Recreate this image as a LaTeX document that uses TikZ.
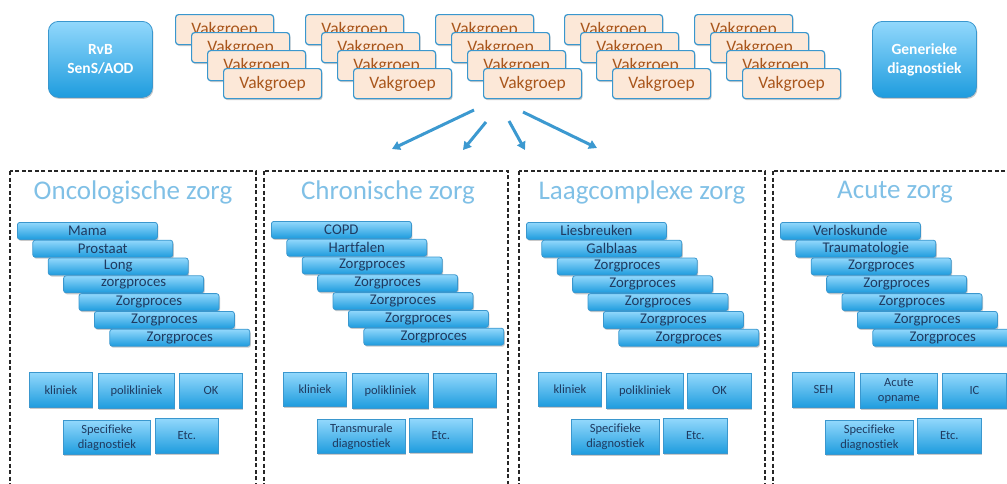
\documentclass[tikz,border=0pt]{standalone}
\usepackage{fontspec}
\setmainfont{Carlito}[Ligatures=NoCommon]
\usetikzlibrary{arrows.meta,shadows}
\definecolor{gtop}{HTML}{92D8FC}
\definecolor{gbot}{HTML}{1E9CDE}
\definecolor{bborder}{HTML}{3A97CE}
\definecolor{navy}{HTML}{1F3A60}
\definecolor{peach}{HTML}{FCE8D8}
\definecolor{brown}{HTML}{A9561C}
\definecolor{titleblue}{HTML}{80C0E6}
\definecolor{arrowblue}{HTML}{3C99D0}
\begin{document}
\begin{tikzpicture}[x=1pt,y=-1pt,
  shad/.style={drop shadow={shadow xshift=1pt,shadow yshift=-1.5pt,opacity=0.3,fill=black!70}},
  bluebox/.style={draw=bborder,line width=0.8pt,top color=gtop,bottom color=gbot,shad},
  bar/.style={bluebox,rounded corners=2.5pt,minimum width=140pt,minimum height=17pt,
    inner sep=0pt,anchor=north west,text=navy,font=\fontsize{14.8}{15}\selectfont},
  sq/.style={bluebox,inner sep=0pt,anchor=north west,text=navy,align=center,
    font=\fontsize{12.5}{15}\selectfont},
  topbox/.style={bluebox,rounded corners=10pt,minimum width=104pt,minimum height=76pt,
    inner sep=0pt,anchor=north west,text=white,align=center,
    font=\fontsize{15.5}{19}\selectfont\bfseries},
  vak/.style={draw=bborder,line width=1.2pt,fill=peach,rounded corners=3pt,shad,
    minimum width=98pt,minimum height=30pt,inner sep=0pt,anchor=north west,
    text=brown,font=\fontsize{17.5}{18}\selectfont},
  panel/.style={draw=black!85,line width=1.2pt,dash pattern=on 4pt off 2.5pt},
  ptitle/.style={text=titleblue,font=\fontsize{27}{28}\selectfont},
  arr/.style={draw=arrowblue,line width=3pt,-{Triangle[width=9pt,length=8pt]}}
]
\useasboundingbox (0,0) rectangle (1007,483);
\clip (0,0) rectangle (1007,483);

% top boxes
\node[topbox] (rvb) at (48,21) {RvB\\SenS/AOD};
\node[topbox] (gen) at (872,21) {Generieke\\diagnostiek};

% vakgroep stacks
\foreach \sx [count=\s] in {175,305,435,564,694}{
  \foreach \i in {0,...,3}{
    \node[vak] (v\s\i) at ({\sx+16*\i},{14+18*\i}) {Vakgroep};
  }
}

% arrows
\coordinate (a1s) at (474,110); \coordinate (a1e) at (392,149);
\coordinate (a2s) at (486,122); \coordinate (a2e) at (463,150);
\coordinate (a3s) at (509,121); \coordinate (a3e) at (525,150);
\coordinate (a4s) at (523,112); \coordinate (a4e) at (597,148);
\draw[arr] (a1s) -- (a1e);
\draw[arr] (a2s) -- (a2e);
\draw[arr] (a3s) -- (a3e);
\draw[arr] (a4s) -- (a4e);

% panels
\draw[panel] (10,171) rectangle (256,495);
\draw[panel] (264,171) rectangle (508,495);
\draw[panel] (519,171) rectangle (765,495);
\draw[panel] (773,171) rectangle (1020,495);

\node[ptitle] (t1) at (133,192) {Oncologische zorg};
\node[ptitle] (t2) at (388,192) {Chronische zorg};
\node[ptitle] (t3) at (642,192) {Laagcomplexe zorg};
\node[ptitle] (t4) at (895,192) {Acute zorg};

% bars
\foreach \t [count=\i from 0] in {Mama,Prostaat,Long,zorgproces,Zorgproces,Zorgproces,Zorgproces}
  \node[bar] (o\i) at ({17+15.4*\i},{222+17.8*\i}) {\t};
\foreach \t [count=\i from 0] in {COPD,Hartfalen,Zorgproces,Zorgproces,Zorgproces,Zorgproces,Zorgproces}
  \node[bar] (c\i) at ({271+15.4*\i},{221+17.8*\i}) {\t};
\foreach \t [count=\i from 0] in {Liesbreuken,Galblaas,Zorgproces,Zorgproces,Zorgproces,Zorgproces,Zorgproces}
  \node[bar] (l\i) at ({526+15.4*\i},{222+17.8*\i}) {\t};
\foreach \t [count=\i from 0] in {Verloskunde,Traumatologie,Zorgproces,Zorgproces,Zorgproces,Zorgproces,Zorgproces}
  \node[bar] (u\i) at ({780+15.4*\i},{222+17.8*\i}) {\t};

% bottom boxes panel 1
\node[sq,minimum width=63pt,minimum height=35pt] (k1) at (29,372) {kliniek};
\node[sq,minimum width=76pt,minimum height=35pt] (p1) at (98,373) {polikliniek};
\node[sq,minimum width=63pt,minimum height=35pt] (ok1) at (179,373) {OK};
\node[sq,minimum width=87pt,minimum height=34pt] (s1) at (63,420) {Specifieke\\diagnostiek};
\node[sq,minimum width=63pt,minimum height=35pt] (e1) at (155,418) {Etc.};
% panel 2
\node[sq,minimum width=63pt,minimum height=34pt] (k2) at (283,372) {kliniek};
\node[sq,minimum width=76pt,minimum height=35pt] (p2) at (352,373) {polikliniek};
\node[sq,minimum width=63pt,minimum height=34pt] (x2) at (433,373) {};
\node[sq,minimum width=88pt,minimum height=34pt] (s2) at (317,419) {Transmurale\\diagnostiek};
\node[sq,minimum width=63pt,minimum height=34pt] (e2) at (409,418) {Etc.};
% panel 3
\node[sq,minimum width=63pt,minimum height=34pt] (k3) at (538,372) {kliniek};
\node[sq,minimum width=77pt,minimum height=35pt] (p3) at (606,373) {polikliniek};
\node[sq,minimum width=64pt,minimum height=35pt] (ok3) at (687,373) {OK};
\node[sq,minimum width=88pt,minimum height=35pt] (s3) at (571,419) {Specifieke\\diagnostiek};
\node[sq,minimum width=64pt,minimum height=35pt] (e3) at (663,418) {Etc.};
% panel 4
\node[sq,minimum width=62pt,minimum height=35pt] (k4) at (792,372) {SEH};
\node[sq,minimum width=77pt,minimum height=35pt] (p4) at (860,373) {Acute\\opname};
\node[sq,minimum width=64pt,minimum height=35pt] (ok4) at (942,373) {IC};
\node[sq,minimum width=88pt,minimum height=34pt] (s4) at (825,420) {Specifieke\\diagnostiek};
\node[sq,minimum width=64pt,minimum height=35pt] (e4) at (917,418) {Etc.};
\end{tikzpicture}
\end{document}
